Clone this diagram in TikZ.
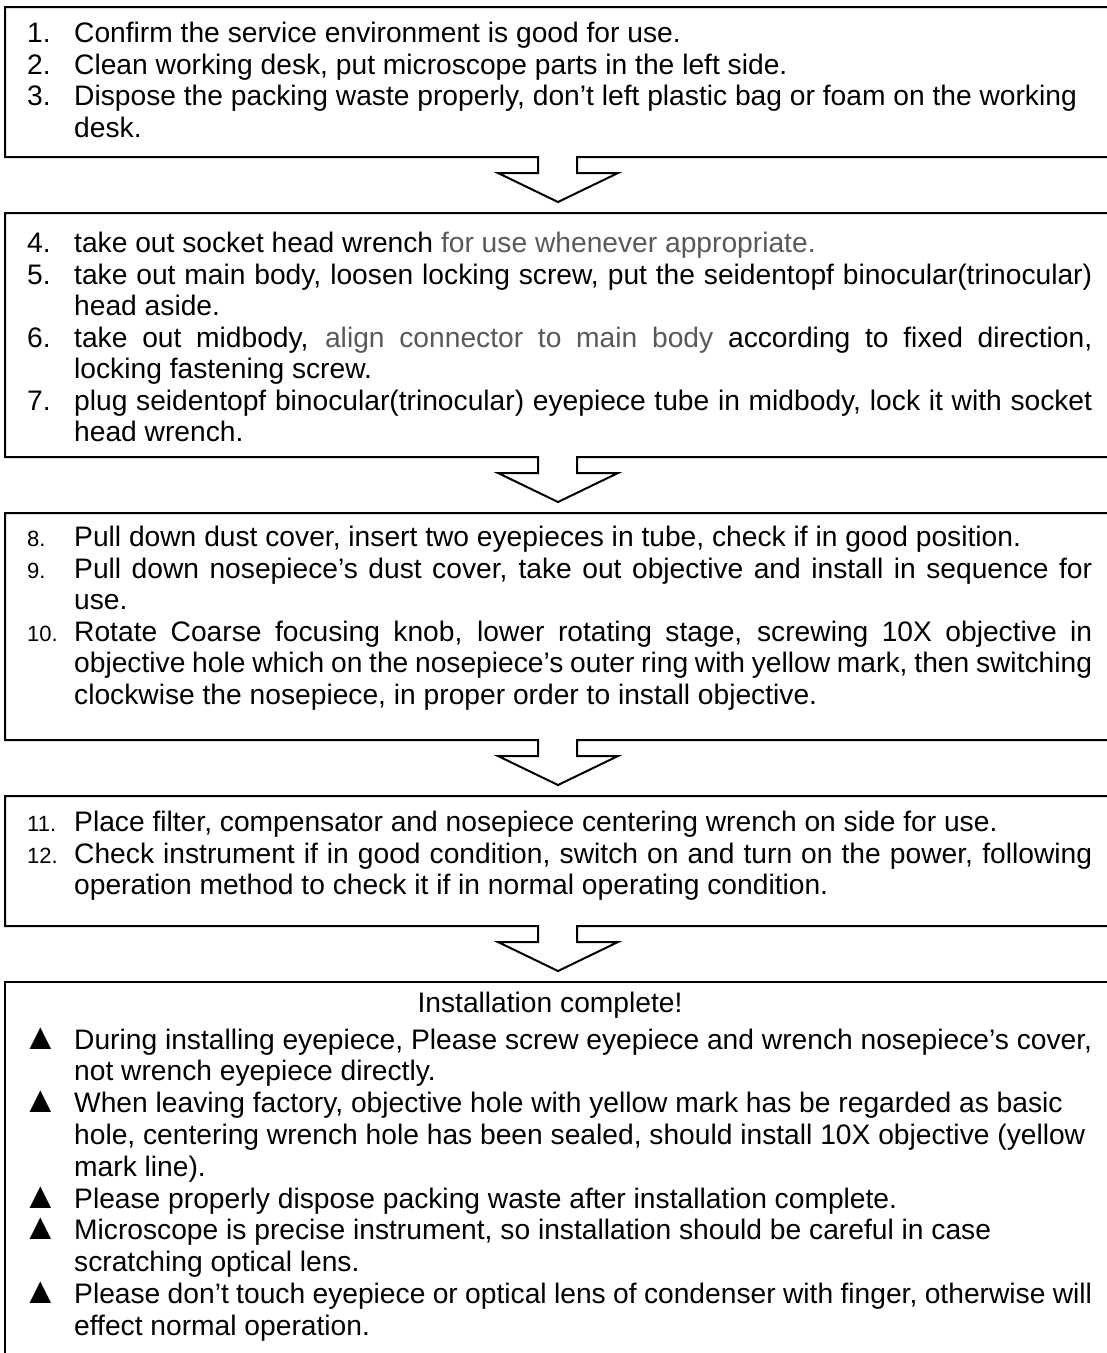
\documentclass[tikz,border=0pt]{standalone}
\usepackage{fontspec}
\setmainfont{Liberation Sans}
\usetikzlibrary{positioning}
\definecolor{softgrey}{HTML}{595959}

\newcommand\stepfont{\fontsize{28.2}{31.5}\selectfont}
\newcommand\notefont{\fontsize{28.2}{31.8}\selectfont}
\newcommand\stepsetup{\tolerance=10000\hbadness=10000\hyphenpenalty=10000\exhyphenpenalty=10000\relax}
\newcommand\stepitem[1]{\par\noindent\hangindent=47pt\hangafter=1\makebox[47pt][l]{#1}}
\newcommand\smallnum[1]{{\fontsize{22}{22}\selectfont #1}}
\newcommand\warnmark{\hspace{-5pt}\smash{\fontsize{37}{37}\selectfont ▲}}

\tikzset{
  frame/.style={draw=black, line width=2pt, line join=miter},
  steptext/.style={anchor=north west, inner sep=0pt, text width=1065pt,
    align=justify, font=\stepfont},
  notetext/.style={steptext, font=\notefont}
}

\begin{document}
\begin{tikzpicture}[x=1pt, y=-1pt]
  \useasboundingbox (0,0) rectangle (1107,1353);
  \clip (0,0) rectangle (1107,1353);

  % frames, each one with its arrow down to the next
  \foreach \t/\b in {7/157, 213/457, 513/740, 796/926}{
    \draw[frame] (577,\b) -| (1120,\t) -| (5,\b) -- (538,\b) -- ++(0,16) -- ++(-40,0)
      -- (558,\b+45) -- (618,\b+16) -- (577,\b+16) -- cycle;
  }
  \draw[frame] (1120,982) -- (5,982) -- (5,1400);

  \node[steptext] (prep) at (27,11) {\stepsetup
    \stepitem{1.}Confirm the service environment is good for use.
    \stepitem{2.}Clean working desk, put microscope parts in the left side.
    \stepitem{3.}Dispose the packing waste properly, don’t left plastic bag or foam on the working\newline desk.\par};

  \node[steptext] (body) at (27,221) {\stepsetup
    \stepitem{4.}take out socket head wrench \textcolor{softgrey}{for use whenever appropriate.}
    \stepitem{5.}take out main body, loosen locking screw, put the seidentopf binocular(trinocular)\linebreak head aside.
    \stepitem{6.}take out midbody, \textcolor{softgrey}{align connector to main body} according to fixed direction,\linebreak locking fastening screw.
    \stepitem{7.}plug seidentopf binocular(trinocular) eyepiece tube in midbody, lock it with socket\linebreak head wrench.\par};

  \node[steptext] (optics) at (27,515) {\stepsetup
    \stepitem{\smallnum{8.}}Pull down dust cover, insert two eyepieces in tube, check if in good position.
    \stepitem{\smallnum{9.}}Pull down nosepiece’s dust cover, take out objective and install in sequence for\linebreak use.
    \stepitem{\smallnum{10.}}Rotate Coarse focusing knob, lower rotating stage, screwing 10X objective in\linebreak objective hole which on the nosepiece’s outer ring with yellow mark, then switching\linebreak clockwise the nosepiece, in proper order to install objective.\par};

  \node[steptext] (check) at (27,800) {\stepsetup
    \stepitem{\smallnum{11.}}Place filter, compensator and nosepiece centering wrench on side for use.
    \stepitem{\smallnum{12.}}Check instrument if in good condition, switch on and turn on the power, following\linebreak operation method to check it if in normal operating condition.\par};

  \node[font=\stepfont, inner sep=0pt] (done) at (550,1005) {Installation complete!};

  \node[notetext] (notes) at (27,1017) {\stepsetup
    \stepitem{\warnmark}During installing eyepiece, Please screw eyepiece and wrench nosepiece’s cover,\newline not wrench eyepiece directly.
    \stepitem{\warnmark}When leaving factory, objective hole with yellow mark has be regarded as basic\newline hole, centering wrench hole has been sealed, should install 10X objective (yellow\newline mark line).
    \stepitem{\warnmark}Please properly dispose packing waste after installation complete.
    \stepitem{\warnmark}Microscope is precise instrument, so installation should be careful in case\newline scratching optical lens.
    \stepitem{\warnmark}Please don’t touch eyepiece or optical lens of condenser with finger, otherwise will\newline effect normal operation.\par};
\end{tikzpicture}
\end{document}
